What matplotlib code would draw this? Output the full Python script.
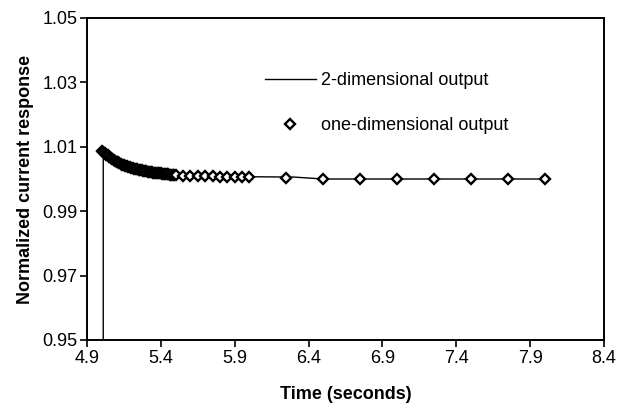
import numpy as np
import matplotlib.pyplot as plt

plt.rcParams['font.family'] = ['Liberation Sans', 'DejaVu Sans']

# 2-dimensional output (solid line)
line_t = [5.01, 5.01, 5.03, 5.06, 5.10, 5.15, 5.20, 5.30, 5.40, 5.50,
          5.60, 5.80, 6.00, 6.30, 6.50, 8.00]
line_y = [0.95, 1.0086, 1.0077, 1.0066, 1.0054, 1.0043, 1.0035, 1.0024, 1.0018, 1.0011,
          1.0009, 1.0007, 1.0007, 1.0006, 1.0000, 1.0000]

# one-dimensional output (diamonds)
dia_t = [5.00, 5.01, 5.02, 5.03, 5.04, 5.05, 5.06, 5.07, 5.08, 5.09,
         5.10, 5.11, 5.12, 5.13, 5.14, 5.15, 5.16, 5.17, 5.18, 5.19,
         5.20, 5.21, 5.22, 5.23, 5.24, 5.25, 5.26, 5.27, 5.28, 5.29,
         5.30, 5.31, 5.32, 5.33, 5.34, 5.35, 5.36, 5.37, 5.38, 5.39,
         5.40, 5.41, 5.42, 5.43, 5.44, 5.45, 5.46, 5.47, 5.48, 5.49, 5.50,
         5.55, 5.60, 5.65, 5.70, 5.75, 5.80, 5.85, 5.90, 5.95, 6.00,
         6.25, 6.50, 6.75, 7.00, 7.25, 7.50, 7.75, 8.00]
dia_y = [1.0088, 1.0084, 1.0080, 1.0076, 1.0073, 1.0069, 1.0066, 1.0063, 1.0060, 1.0057,
         1.0054, 1.0052, 1.0049, 1.0047, 1.0045, 1.0043, 1.0041, 1.0039, 1.0038, 1.0036,
         1.0035, 1.0033, 1.0032, 1.0031, 1.0030, 1.0029, 1.0028, 1.0027, 1.0026, 1.0025,
         1.0024, 1.0023, 1.0022, 1.0022, 1.0021, 1.0020, 1.0020, 1.0019, 1.0019, 1.0018,
         1.0018, 1.0017, 1.0016, 1.0016, 1.0015, 1.0014, 1.0013, 1.0013, 1.0012, 1.0012, 1.0011,
         1.0010, 1.0009, 1.0009, 1.0008, 1.0008, 1.0007, 1.0007, 1.0007, 1.0007, 1.0007,
         1.0003, 1.0000, 1.0000, 1.0000, 1.0000, 1.0000, 1.0000, 1.0000]

x_ticks = [4.9, 5.4, 5.9, 6.4, 6.9, 7.4, 7.9, 8.4]
y_ticks = [0.95, 0.97, 0.99, 1.01, 1.03, 1.05]

fig = plt.figure(figsize=(6.3, 4.07), dpi=100)
ax = fig.add_axes([87 / 630, 1 - 340 / 407, (604 - 87) / 630, (340 - 18) / 407])

ax.plot(line_t, line_y, color='black', linewidth=1.0, label='2-dimensional output')
ax.plot(dia_t, dia_y, linestyle='none', marker='D', markersize=5,
        markerfacecolor='white', markeredgecolor='black', markeredgewidth=1.7,
        label='one-dimensional output')

ax.set_xlim(4.9, 8.4)
ax.set_ylim(0.95, 1.05)
ax.set_xticks(x_ticks)
ax.set_xticklabels([f'{v:.1f}' for v in x_ticks])
ax.set_yticks(y_ticks)
ax.set_yticklabels([f'{v:.2f}' for v in y_ticks])
ax.tick_params(direction='out', length=5, width=1.2, labelsize=13, pad=2)
for s in ax.spines.values():
    s.set_linewidth(1.4)

ax.set_xlabel('Time (seconds)', fontsize=13, fontweight='bold', labelpad=14)
ax.set_ylabel('Normalized current response', fontsize=13, fontweight='bold', labelpad=6)

ax.legend(loc='upper left', bbox_to_anchor=(265 / 630, 1 - 72 / 407),
          bbox_transform=fig.transFigure, frameon=False, fontsize=13,
          handlelength=2.8, handletextpad=0.3, labelspacing=1.55,
          borderpad=0, borderaxespad=0)

fig.savefig('out.png', dpi=100)
